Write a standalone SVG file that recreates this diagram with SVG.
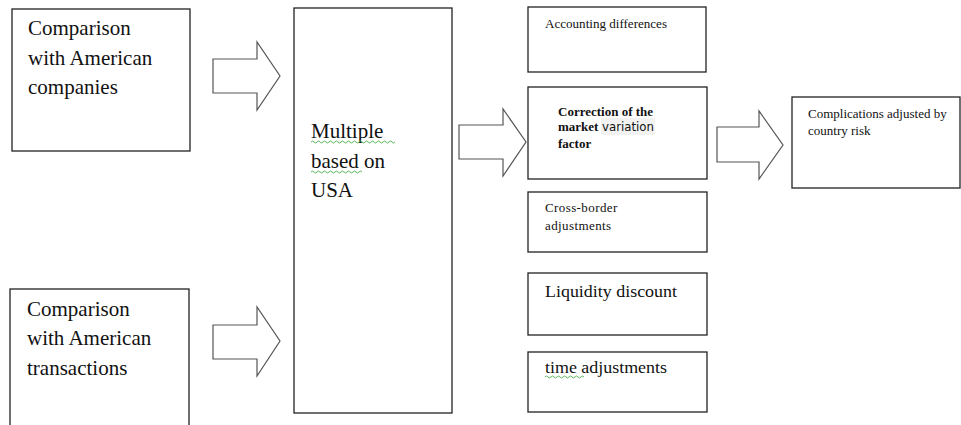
<svg xmlns="http://www.w3.org/2000/svg" width="961" height="425" viewBox="0 0 961 425">
<defs>
<style>
.box{fill:#fff;stroke:#222;stroke-width:1.3}
.arr{fill:#fff;stroke:#555;stroke-width:1.2;stroke-linejoin:miter}
.big{font-family:"Liberation Serif","Times New Roman",serif;font-size:21px;fill:#111}
.sm{font-family:"Liberation Serif","Times New Roman",serif;font-size:13px;fill:#111}
.bold{font-weight:bold}
.sans{font-family:"DejaVu Sans",Verdana,sans-serif;font-weight:normal;font-size:12px}
.wavy{fill:none;stroke:#5cb85c;stroke-width:1}
</style>
</defs>
<rect width="961" height="425" fill="#fff"/>
<g id="connectors">
<polygon class="arr" points="213,59 257,59 257,42 280,76 257,110 257,93 213,93"/>
<polygon class="arr" points="213,325 257,325 257,307 280,341 257,376 257,359 213,359"/>
<polygon class="arr" points="459,125 503,125 503,109 526,142 503,176 503,159 459,159"/>
<polygon class="arr" points="717,127 759,127 759,111 783,145 759,179 759,162 717,162"/>
</g>
<g id="node-companies">
<rect class="box" x="12" y="9" width="178" height="142"/>
<text class="big"><tspan x="28" y="35">Comparison</tspan><tspan x="28" y="65">with American</tspan><tspan x="28" y="94">companies</tspan></text>
</g>
<g id="node-transactions">
<rect class="box" x="10" y="289" width="179" height="145"/>
<text class="big"><tspan x="27" y="316">Comparison</tspan><tspan x="27" y="345">with American</tspan><tspan x="27" y="375">transactions</tspan></text>
</g>
<g id="node-multiple">
<rect class="box" x="294" y="8" width="158" height="405"/>
<text class="big"><tspan x="311" y="138">Multiple</tspan><tspan x="311" y="168">based on</tspan><tspan x="311" y="197">USA</tspan></text>
<path class="wavy" d="M311,142 q1.5,-2 3,0 t3,0 t3,0 t3,0 t3,0 t3,0 t3,0 t3,0 t3,0 t3,0 t3,0 t3,0 t3,0 t3,0 t3,0 t3,0 t3,0 t3,0 t3,0 t3,0 t3,0 t3,0 t3,0 t3,0 t3,0 t3,0 t3,0 t3,0"/>
<path class="wavy" d="M311,172 q1.5,-2 3,0 t3,0 t3,0 t3,0 t3,0 t3,0 t3,0 t3,0 t3,0 t3,0 t3,0 t3,0 t3,0 t3,0 t3,0 t3,0 t3,0"/>
</g>
<g id="node-accounting">
<rect class="box" x="528" y="7" width="178" height="65"/>
<text class="sm" x="545" y="28" textLength="122" lengthAdjust="spacingAndGlyphs">Accounting differences</text>
</g>
<g id="node-correction">
<rect class="box" x="528" y="87" width="179" height="92"/>
<rect x="601" y="118" width="54" height="17" fill="#f2f2f2"/>
<text class="sm bold"><tspan x="558" y="116">Correction of the</tspan><tspan x="558" y="131">market </tspan><tspan class="sans" x="602" y="131" textLength="52" lengthAdjust="spacingAndGlyphs">variation</tspan><tspan x="558" y="148">factor</tspan></text>
</g>
<g id="node-crossborder">
<rect class="box" x="528" y="192" width="179" height="60"/>
<text class="sm" style="letter-spacing:0.4px"><tspan x="545" y="212">Cross-border</tspan><tspan x="545" y="230">adjustments</tspan></text>
</g>
<g id="node-liquidity">
<rect class="box" x="528" y="273" width="179" height="62"/>
<text class="sm" style="font-size:17px" x="545" y="297" textLength="132" lengthAdjust="spacingAndGlyphs">Liquidity discount</text>
</g>
<g id="node-time">
<rect class="box" x="528" y="352" width="179" height="60"/>
<text class="sm" style="font-size:16px" x="545" y="373" textLength="122" lengthAdjust="spacingAndGlyphs">time adjustments</text>
<path class="wavy" d="M545,377 q1.5,-2 3,0 t3,0 t3,0 t3,0 t3,0 t3,0 t3,0 t3,0 t3,0 t3,0 t3,0 t3,0 t3,0"/>
</g>
<g id="node-complications">
<rect class="box" x="792" y="97" width="168" height="91"/>
<text class="sm"><tspan x="808" y="118">Complications adjusted by</tspan><tspan x="808" y="135">country risk</tspan></text>
</g>
</svg>
